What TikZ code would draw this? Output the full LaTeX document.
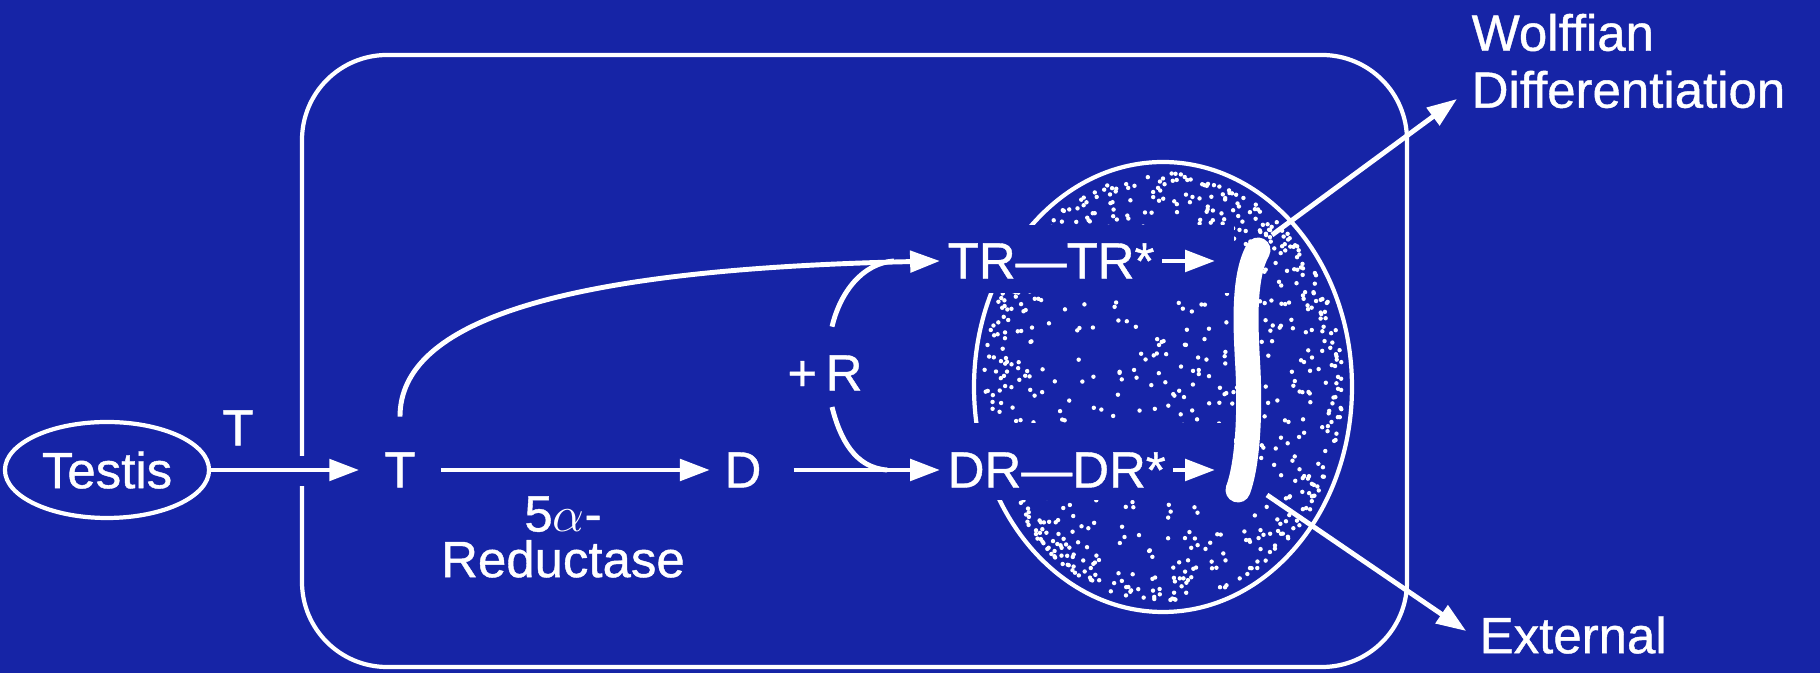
\documentclass[tikz,border=0pt]{standalone}
\usepackage{fontspec}
\setmainfont[FakeBold=0.8]{Liberation Sans}
\usetikzlibrary{arrows.meta,positioning,shapes.geometric,calc}
\definecolor{slidebg}{RGB}{22,36,166}
\newcommand{\slidefont}{\fontsize{14.5}{16.2}\selectfont}
\tikzset{
  lbl/.style={text=white, font=\slidefont, inner sep=2pt},
  wire/.style={draw=white, line width=1.2pt},
  flow/.style={-{Triangle[length=8.5pt,width=6pt]}, draw=white, line width=1.4pt}
}

\begin{document}
\begin{tikzpicture}
  \fill[slidebg] (0,0) rectangle (18.2,6.73);
  \useasboundingbox (0,0) rectangle (18.2,6.73);
  % cell and its opening for the incoming arrow
  \draw[wire, rounded corners=0.85cm] (3.02,0.06) rectangle (14.07,6.18);
  \fill[slidebg] (2.95,1.87) rectangle (3.09,2.17);
  % nucleus, stippled
  \draw[wire] (11.63,2.86) ellipse (1.89 and 2.25);
  \pgfmathsetseed{4242}
  \foreach \i in {1,...,420}{
    \pgfmathsetmacro\ang{360*rnd}
    \pgfmathsetmacro\rad{0.94*sqrt(rnd)}
    \fill[white] ({11.63+1.89*\rad*cos(\ang)},{2.86+2.25*\rad*sin(\ang)}) circle (0.022);
  }
  \foreach \i in {1,...,380}{
    \pgfmathsetmacro\ang{360*rnd}
    \pgfmathsetmacro\rad{0.95-0.22*rnd*rnd}
    \fill[white] ({11.63+1.89*\rad*cos(\ang)},{2.86+2.25*\rad*sin(\ang)}) circle (0.022);
  }
  \fill[slidebg] (9.5,3.80) rectangle (12.34,4.48);
  \fill[slidebg] (9.5,1.73) rectangle (12.34,2.50);
  \draw[white, line width=0.25cm, line cap=round] (12.58,4.23) .. controls (12.42,3.95) and (12.46,3.40) .. (12.48,3.03) .. controls (12.50,2.60) and (12.48,2.10) .. (12.38,1.83);

  \node[lbl, draw=white, line width=1.2pt, ellipse, minimum width=2.0cm, minimum height=0.96cm] (testis) at (1.07,2.03) {Testis};
  \node[lbl] (tlab) at (2.38,2.45) {T};
  \node[lbl, inner xsep=7pt] (tcell) at (4.00,2.03) {T};
  \node[lbl, inner xsep=4pt] (dcell) at (7.43,2.03) {D};
  \node[lbl, align=center, font=\fontsize{14.5}{13}\selectfont] (enz) at (5.63,1.36) {5$\alpha$-\\Reductase};
  \node[lbl] (rplus) at (8.25,3.00) {+\,R};
  \node[lbl, anchor=west] (trr) at (9.40,4.12) {TR—TR*};
  \node[lbl, anchor=west] (drr) at (9.40,2.03) {DR—DR*};
  \node[lbl, anchor=west, align=left] (wolf) at (14.64,6.12) {Wolffian\\Differentiation};
  \node[lbl, anchor=west] (ext) at (14.72,0.38) {External};

  \coordinate (trend) at (12.15,4.12);
  \coordinate (drend) at (12.15,2.03);
  \coordinate (wstart) at (12.72,4.38);
  \coordinate (wtip) at (14.57,5.74);
  \coordinate (xstart) at (12.67,1.78);

  \draw[flow] (testis.east) -- (tcell.west);
  \draw[flow] (tcell.east) -- (dcell.west);
  \draw[flow, shorten <=5pt] (dcell.east) -- (drr.west);
  \draw[flow] ([yshift=8pt]tcell.north) .. controls +(0,0.95) and +(-3.8,-0.08) .. (trr.west);
  \draw[wire, line width=1.4pt] ([xshift=2pt,yshift=6pt]rplus.north) .. controls +(0.08,0.34) and +(-0.32,-0.02) .. ([xshift=-13pt]trr.west);
  \draw[wire, line width=1.4pt] ([xshift=2pt,yshift=-2.5pt]rplus.south) .. controls +(0.08,-0.32) and +(-0.32,0.02) .. ([xshift=-15pt]drr.west);
  \draw[flow] (trr.east) -- (trr.east -| trend);
  \draw[flow] (drr.east) -- (drr.east -| drend);
  \draw[flow] (wstart) -- (wtip);
  \draw[flow, shorten >=2pt] (xstart) -- (ext.west);
\end{tikzpicture}
\end{document}
